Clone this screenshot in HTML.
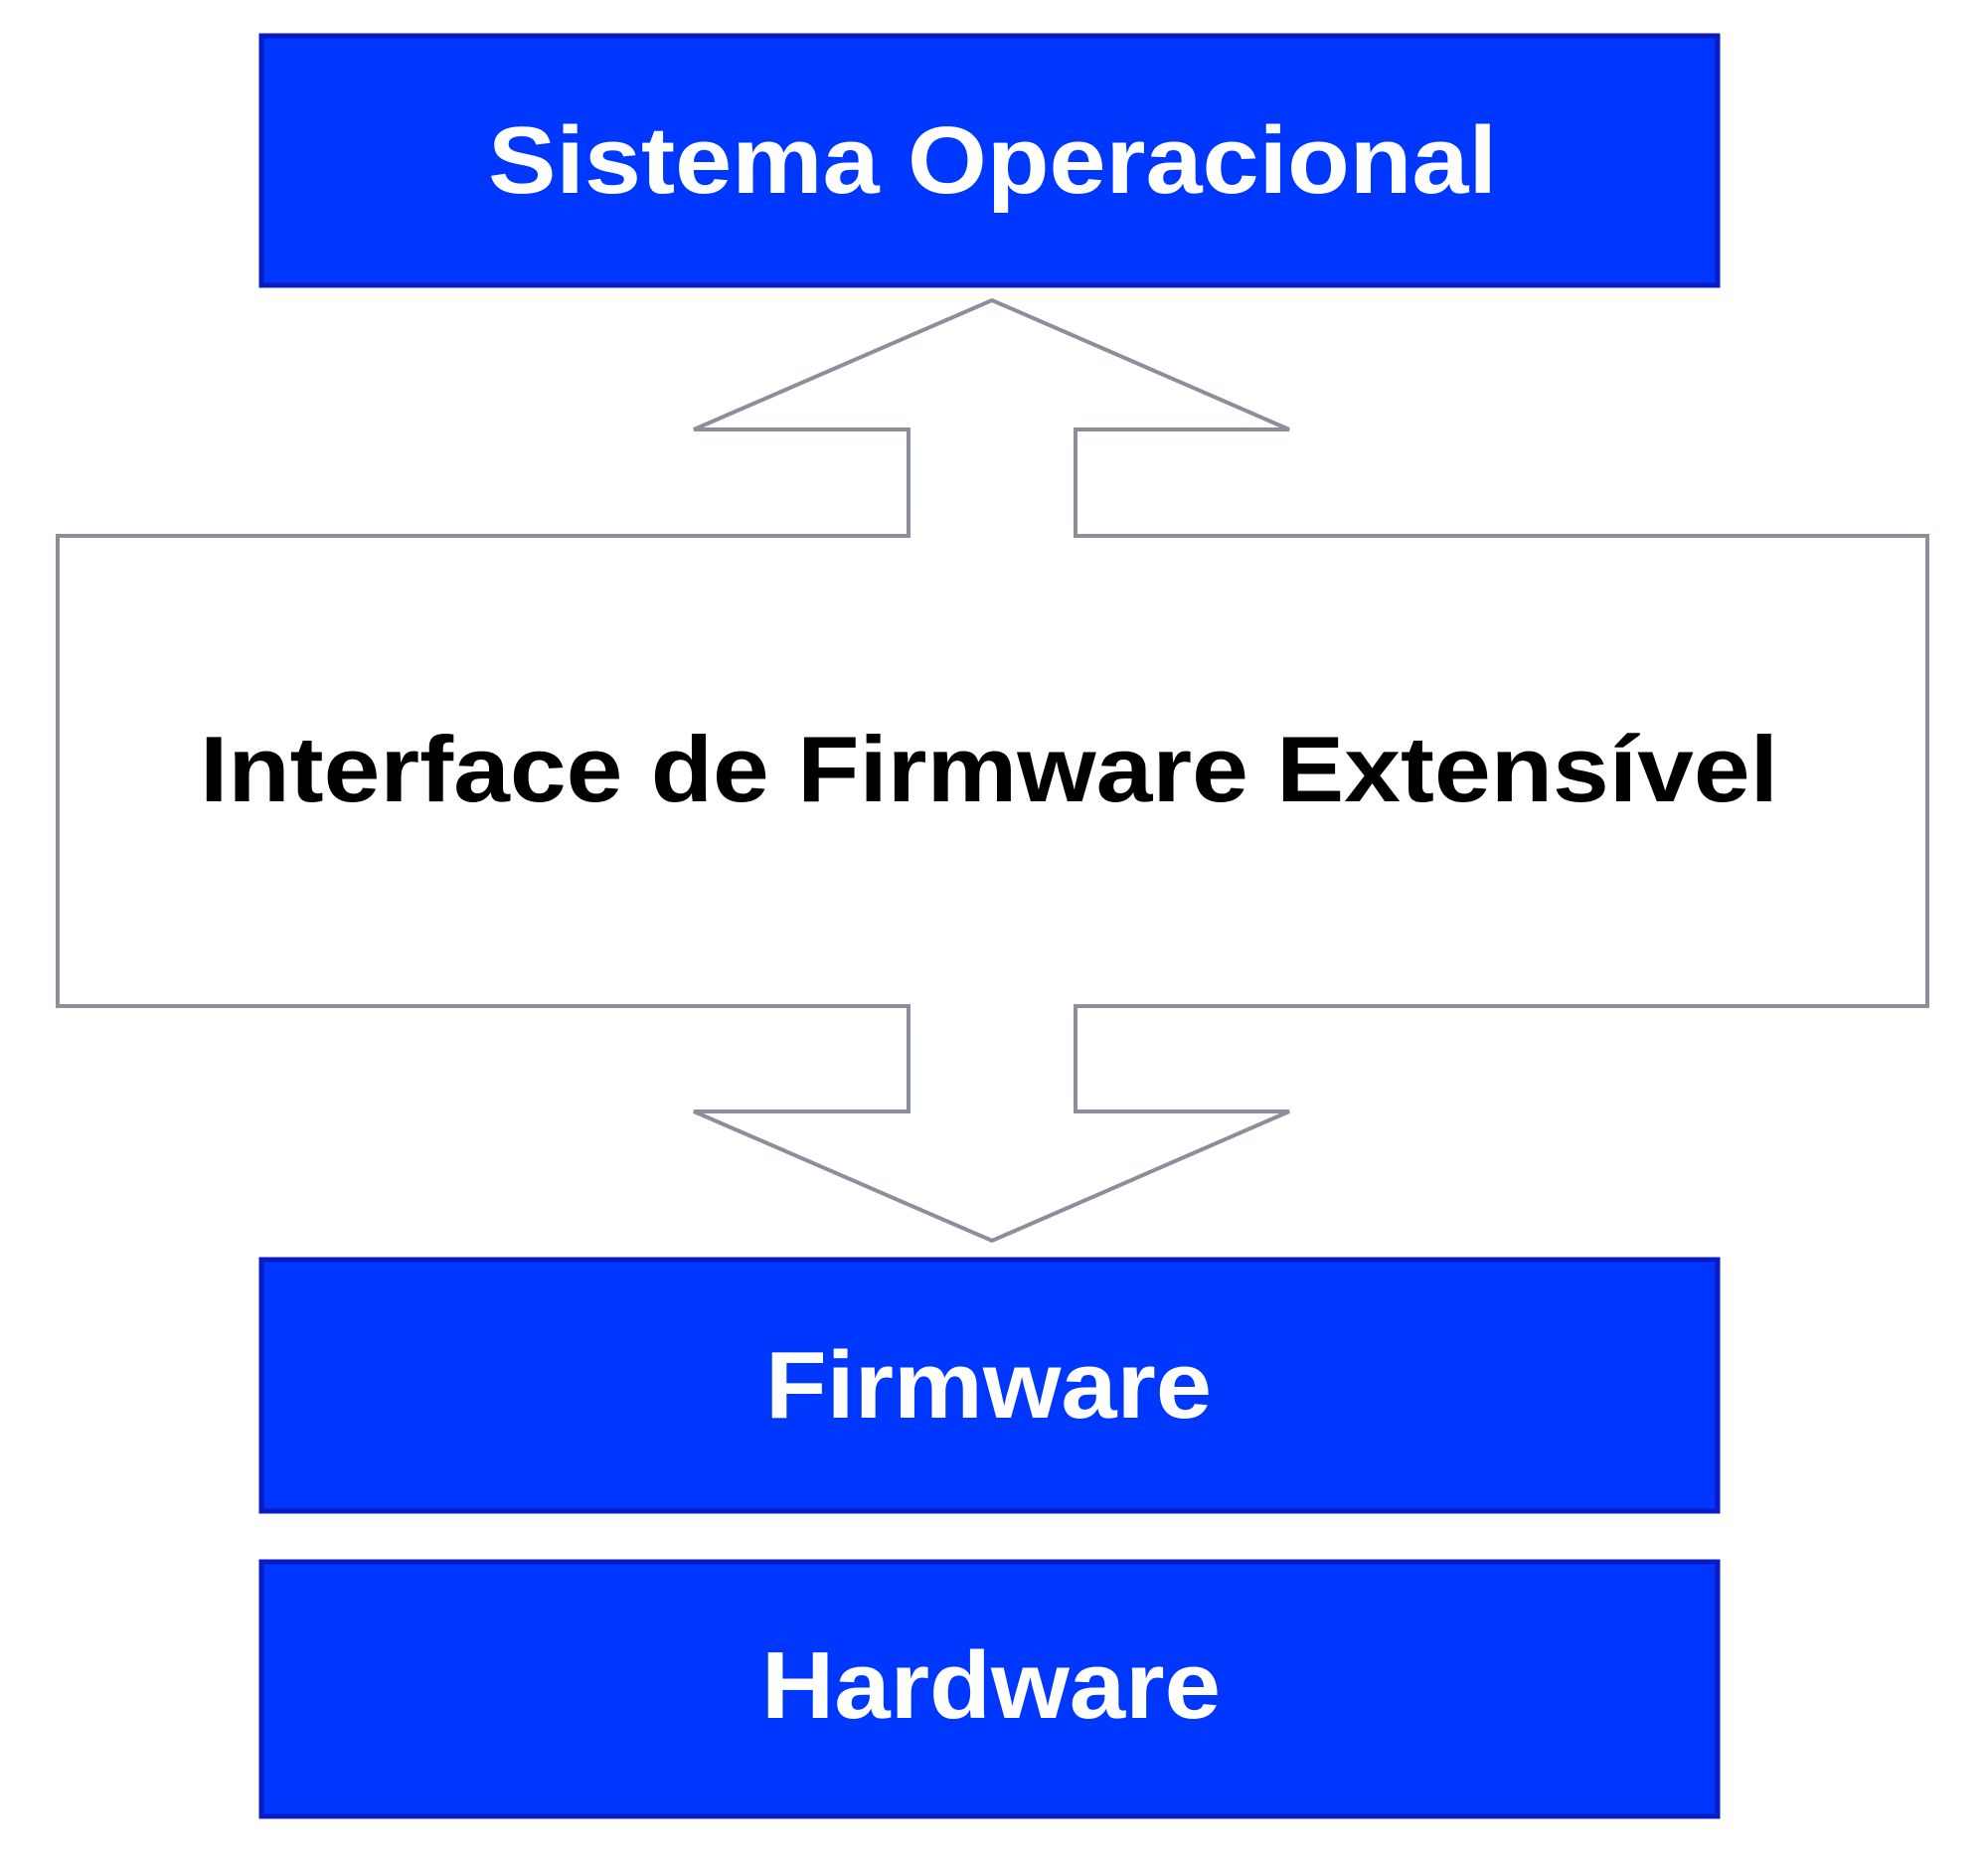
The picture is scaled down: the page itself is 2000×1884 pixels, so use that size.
<!DOCTYPE html>
<html><head><meta charset="utf-8"><style>
html,body{margin:0;padding:0;background:#fff;}
svg{display:block;}
text{font-family:"Liberation Sans",Arial,sans-serif;font-weight:bold;}
</style></head><body>
<svg width="2000" height="1884" viewBox="0 0 2000 1884" xmlns="http://www.w3.org/2000/svg">
<rect x="263" y="36" width="1465" height="251" fill="#0037ff" stroke="#0a1bc4" stroke-width="5"/>
<text x="491" y="194" font-size="96" fill="#fff" textLength="1015" lengthAdjust="spacingAndGlyphs">Sistema Operacional</text>
<path d="M58,539 L914,539 L914,432 L698,432 L998,302 L1297,432 L1082,432 L1082,539 L1939,539 L1939,1012 L1082,1012 L1082,1118 L1297,1118 L998,1248 L698,1118 L914,1118 L914,1012 L58,1012 Z" fill="#fff" stroke="#8a8f99" stroke-width="4" stroke-linejoin="miter"/>
<text x="201" y="806" font-size="94" fill="#000" textLength="1588" lengthAdjust="spacingAndGlyphs">Interface de Firmware Extensível</text>
<rect x="263" y="1267" width="1465" height="253" fill="#0037ff" stroke="#0a1bc4" stroke-width="5"/>
<text x="770" y="1426" font-size="96" fill="#fff" textLength="449" lengthAdjust="spacingAndGlyphs">Firmware</text>
<rect x="263" y="1571" width="1465" height="256" fill="#0037ff" stroke="#0a1bc4" stroke-width="5"/>
<text x="766" y="1728" font-size="96" fill="#fff" textLength="462" lengthAdjust="spacingAndGlyphs">Hardware</text>
</svg>
</body></html>
